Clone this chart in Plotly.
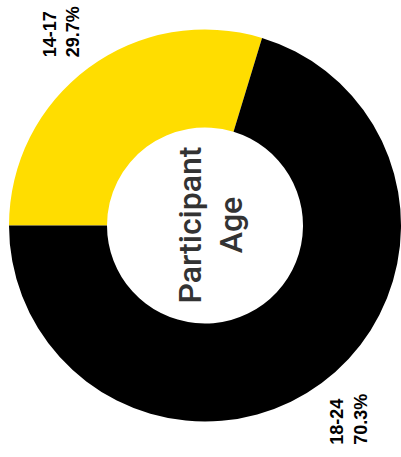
import math
import plotly.graph_objects as go

# Data
categories = ["14-17", "18-24"]
shares = [29.7, 70.3]
colors = ["#FFDD00", "#000000"]
center_title = ["Participant", "Age"]

W, H = 401, 457
ML, MR, MT, MB = 9, 0, 29, 35
plot_w = W - ML - MR
plot_h = H - MT - MB
R = min(plot_w, plot_h) / 2
START = 270  # start angle (clockwise from 12 o'clock)

fig = go.Figure(go.Pie(
    labels=categories,
    values=shares,
    marker=dict(colors=colors, line=dict(width=0)),
    hole=0.5,
    sort=False,
    direction="clockwise",
    rotation=START,
    textinfo="none",
    hoverinfo="label+percent",
    showlegend=False,
    domain=dict(x=[0, 1], y=[0, 1]),
))

# Outside labels at slice mid-angles, rotated
total = sum(shares)
cum = 0
for cat, v in zip(categories, shares):
    mid = START + (cum + v / 2) / total * 360
    cum += v
    th = math.radians(mid)
    dist = 1.23 * R
    px = plot_w / 2 + dist * math.sin(th)
    py = plot_h / 2 + dist * math.cos(th)
    fig.add_annotation(
        x=px / plot_w, y=py / plot_h, xref="paper", yref="paper",
        text=f"{cat}<br>{v:.1f}%", showarrow=False, textangle=-90,
        align="left", xanchor="center", yanchor="middle",
        font=dict(family="Liberation Sans, Arial, sans-serif", size=18, color="#000000", weight="bold"),
    )

fig.add_annotation(
    x=0.5, y=0.5, xref="paper", yref="paper",
    text="<br>".join(center_title), showarrow=False, textangle=-90,
    align="center", xanchor="center", yanchor="middle", xshift=5,
    font=dict(family="Roboto, Liberation Sans, Arial, sans-serif", size=32, color="#333333", weight=500),
)

fig.update_layout(
    width=W, height=H,
    margin=dict(l=ML, r=MR, t=MT, b=MB, pad=0),
    paper_bgcolor="white", plot_bgcolor="white",
)

fig.write_html(
    "out.html",
    config={"displayModeBar": False},
    post_script="document.body.style.margin='0px';document.body.style.overflow='hidden';",
)
